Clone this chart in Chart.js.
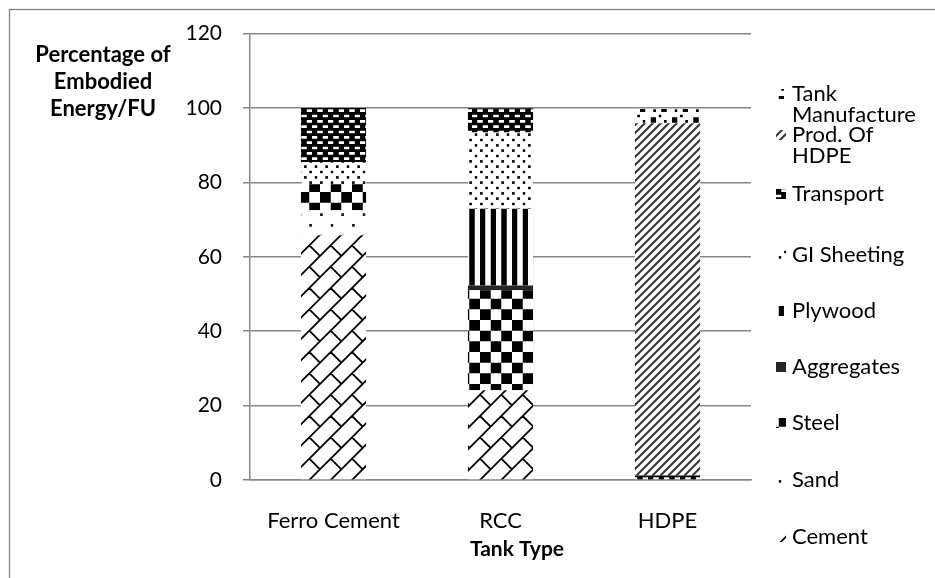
<!DOCTYPE html>
<html>
<head>
<meta charset="utf-8">
<script src="https://cdn.jsdelivr.net/npm/chart.js@4.4.0/dist/chart.umd.min.js"></script>
<style>
    html, body { margin: 0; padding: 0; background: #fff; }
    #wrap { width: 935px; height: 578px; }
</style>
</head>
<body>
<div id="wrap"><canvas id="energyChart" width="935" height="578"></canvas></div>
<script>
// Chart data (percent of embodied energy per functional unit)
const tankTypes = ['Ferro Cement', 'RCC', 'HDPE'];
const cement = [65.8, 24.1, 0];
const sand = [6.7, 0, 0];
const steel = [7.0, 26.9, 0];
const aggregates = [0, 1.3, 0];
const plywood = [0, 20.6, 0];
const giSheeting = [6.0, 20.5, 0];
const transport = [14.5, 6.5, 1.2];
const prodHdpe = [0, 0, 94.7];
const tankManufacture = [0, 0, 3.8];
const yTicks = [0, 20, 40, 60, 80, 100, 120];

const FONT = 'Lato, "Open Sans", sans-serif';
const canvas = document.getElementById('energyChart');
const ctxMain = canvas.getContext('2d');

// 8x8 fill patterns like Excel's pattern fills, drawn 24 bits to a 64px tile
const fills = {
    sparse: ['#.......', '........', '........', '........', '....#...', '........', '........', '........'],
    checker: ['####....', '####....', '####....', '####....', '....####', '....####', '....####', '....####'],
    solid: ['########', '########', '########', '########', '########', '########', '########', '########'],
    vertical: ['##..##..', '##..##..', '##..##..', '##..##..', '##..##..', '##..##..', '##..##..', '##..##..'],
    dots: ['#...#...', '........', '..#...#.', '........', '#...#...', '........', '..#...#.', '........'],
    dashes: ['########', '.##..##.', '########', '#..##..#', '########', '.##..##.', '########', '#..##..#'],
    confetti: ['##......', '##...#..', '........', '.......#', '....##..', '.#..##..', '........', '........']
};

const TILE = 64;

function newTile() {
    const tile = document.createElement('canvas');
    tile.width = TILE;
    tile.height = TILE;
    return tile;
}

function makePattern(bits, fg, bg) {
    const reps = 24, ss = 4;
    const tile = newTile();
    const tctx = tile.getContext('2d');
    const img = tctx.createImageData(TILE, TILE);
    for (let py = 0; py < TILE; py++) {
        for (let px = 0; px < TILE; px++) {
            let on = 0;
            for (let sy = 0; sy < ss; sy++) {
                for (let sx = 0; sx < ss; sx++) {
                    const u = Math.floor((px + (sx + 0.5) / ss) * reps / TILE) % 8;
                    const v = Math.floor((py + (sy + 0.5) / ss) * reps / TILE) % 8;
                    if (bits[v][u] === '#') on++;
                }
            }
            const t = on / (ss * ss);
            const i = (py * TILE + px) * 4;
            for (let c = 0; c < 3; c++) img.data[i + c] = Math.round(fg[c] * t + bg[c] * (1 - t));
            img.data[i + 3] = 255;
        }
    }
    tctx.putImageData(img, 0, 0);
    return ctxMain.createPattern(tile, 'repeat');
}

// diagonal brick, drawn as lines so it stays smooth
function brickPattern() {
    const tile = newTile();
    const c = tile.getContext('2d');
    const T = TILE / 3;
    c.fillStyle = '#fff';
    c.fillRect(0, 0, TILE, TILE);
    c.strokeStyle = '#000';
    c.lineWidth = 1.8;
    c.beginPath();
    for (let k = -1; k <= 7; k++) {
        const v = k * T;
        c.moveTo(v + 10, -10);
        c.lineTo(v - 74, 74);
    }
    for (let i = -1; i <= 3; i++) {
        for (let j = -1; j <= 3; j++) {
            c.moveTo(T / 2 + i * T, T / 2 + j * T);
            c.lineTo(T + i * T, T + j * T);
        }
    }
    c.stroke();
    return ctxMain.createPattern(tile, 'repeat');
}

// upward diagonal stripes
function stripePattern() {
    const tile = newTile();
    const c = tile.getContext('2d');
    const s = TILE / 8;
    c.fillStyle = '#fff';
    c.fillRect(0, 0, TILE, TILE);
    c.strokeStyle = '#3a3a3a';
    c.lineWidth = 2.2;
    c.beginPath();
    for (let k = -2; k <= 18; k++) {
        const v = k * s;
        c.moveTo(v + 10, -10);
        c.lineTo(v - 74, 74);
    }
    c.stroke();
    return ctxMain.createPattern(tile, 'repeat');
}

const black = [0, 0, 0];
const white = [255, 255, 255];

const series = [
    { label: 'Cement', data: cement, fill: brickPattern() },
    { label: 'Sand', data: sand, fill: makePattern(fills.sparse, [30, 30, 30], white) },
    { label: 'Steel', data: steel, fill: makePattern(fills.checker, black, white) },
    { label: 'Aggregates', data: aggregates, fill: makePattern(fills.solid, [38, 38, 38], white) },
    { label: 'Plywood', data: plywood, fill: makePattern(fills.vertical, black, white) },
    { label: 'GI Sheeting', data: giSheeting, fill: makePattern(fills.dots, [20, 20, 20], white) },
    { label: 'Transport', data: transport, fill: makePattern(fills.dashes, black, white) },
    { label: 'Prod. Of HDPE', data: prodHdpe, fill: stripePattern() },
    { label: 'Tank Manufacture', data: tankManufacture, fill: makePattern(fills.confetti, black, white) }
];

// legend first-line centres, top entry first
const legendY = [94, 135, 194, 255, 311, 367, 423, 480, 537];

function wrapLabel(ctx, text, maxW) {
    const words = text.split(' ');
    const lines = [];
    let cur = '';
    words.forEach(w => {
        const test = cur ? cur + ' ' + w : w;
        if (cur && ctx.measureText(test).width > maxW) {
            lines.push(cur);
            cur = w;
        } else {
            cur = test;
        }
    });
    if (cur) lines.push(cur);
    return lines;
}

const extras = {
    id: 'extras',
    beforeDraw(chart) {
        const c = chart.ctx;
        c.save();
        c.fillStyle = '#fff';
        c.fillRect(0, 0, chart.width, chart.height);
        c.strokeStyle = '#868686';
        c.lineWidth = 1.3;
        c.strokeRect(9.5, 9.5, 1000, 1000);
        c.restore();
    },
    afterDraw(chart) {
        const c = chart.ctx;
        c.save();
        c.fillStyle = '#000';
        c.textAlign = 'center';
        c.textBaseline = 'middle';
        c.font = 'bold 22px ' + FONT;
        ['Percentage of', 'Embodied', 'Energy/FU'].forEach((t, i) => {
            c.fillText(t, 103, 55 + i * 27);
        });
        c.font = 'bold 21px ' + FONT;
        c.fillText('Tank Type', 517, 549);

        // legend, reversed like Excel
        c.textAlign = 'left';
        c.font = '22px ' + FONT;
        const items = chart.data.datasets.slice().reverse();
        items.forEach((ds, i) => {
            const y = legendY[i];
            c.fillStyle = ds.backgroundColor;
            c.fillRect(776, y - 5, 10, 10);
            c.fillStyle = '#000';
            wrapLabel(c, ds.label, 140).forEach((line, j) => {
                c.fillText(line, 792, y + j * 20.5);
            });
        });
        c.restore();
    }
};

new Chart(canvas, {
    type: 'bar',
    data: {
        labels: tankTypes,
        datasets: series.map(s => ({
            label: s.label,
            data: s.data,
            backgroundColor: s.fill,
            borderWidth: 0,
            barPercentage: 0.39,
            categoryPercentage: 1
        }))
    },
    options: {
        responsive: false,
        animation: false,
        layout: { padding: { top: 33, right: 184, bottom: 0, left: 0 } },
        plugins: {
            legend: { display: false },
            tooltip: { enabled: false }
        },
        scales: {
            x: {
                stacked: true,
                grid: { display: false, drawTicks: false },
                border: { display: true, color: '#868686', width: 1.5 },
                ticks: { color: '#000', font: { family: FONT, size: 22 }, padding: 28 },
                afterFit(scale) { scale.height = 98; }
            },
            y: {
                stacked: true,
                min: 0,
                max: 120,
                afterBuildTicks(scale) { scale.ticks = yTicks.map(v => ({ value: v })); },
                grid: { color: '#868686', lineWidth: 1.5, tickLength: 7 },
                border: { display: true, color: '#868686', width: 1.5 },
                ticks: { color: '#000', font: { family: FONT, size: 21 }, padding: 21 },
                afterFit(scale) { scale.width = 250; }
            }
        }
    },
    plugins: [extras]
});
</script>
</body>
</html>
